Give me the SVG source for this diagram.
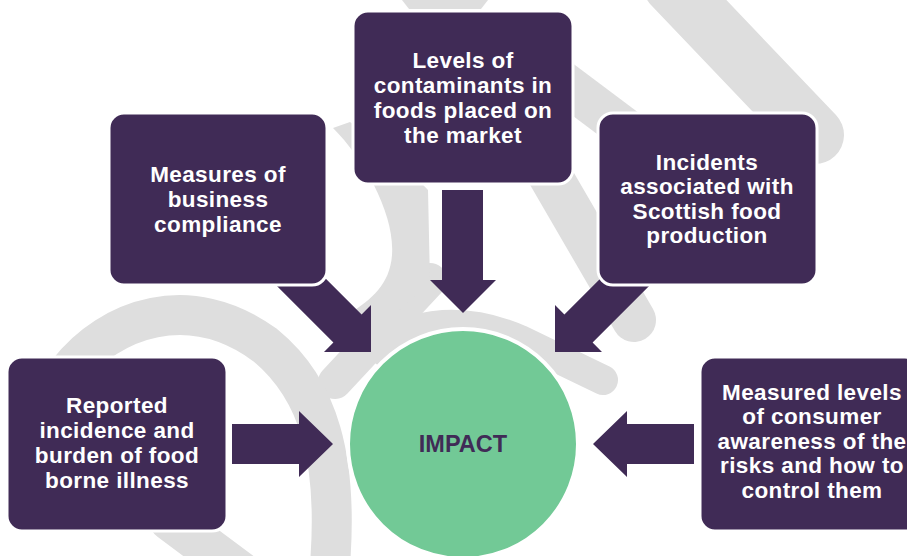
<svg xmlns="http://www.w3.org/2000/svg" width="907" height="556" viewBox="0 0 907 556">
<style>
.wm{fill:none;stroke:#dedede;stroke-linecap:round}
.wmf{fill:#dedede;stroke:none}
.box{fill:#402b56;stroke:#ffffff;stroke-width:3}
.arr{fill:#402b56;stroke:none}
.t{font-family:"Liberation Sans",Arial,sans-serif;font-weight:bold;font-size:22.5px;fill:#ffffff;text-anchor:middle;letter-spacing:0.4px}
.imp{font-family:"Liberation Sans",Arial,sans-serif;font-weight:bold;font-size:23.5px;fill:#402b56;text-anchor:middle}
</style>
<rect width="907" height="556" fill="#ffffff"/>
<g id="watermark">
<path class="wm" d="M672 -15 L815 135" stroke-width="58"/>
<polygon class="wmf" points="402,0 488,0 481,9 409,9"/>
<path class="wm" d="M560 80 L680 170" stroke-width="42"/>
<path class="wm" d="M548 172 L634 320" stroke-width="44"/>
<path class="wm" d="M385 352 C410 318 470 318 520 340 L603 380" stroke-width="30"/>
<path class="wm" d="M430 280 L335 382" stroke-width="34"/>
<path class="wmf" d="M333 128 C365 160 395 215 392 255 C390 285 370 300 352 312 L372 335 L430 282 L428 190 C410 170 380 145 350 122 Z"/>
<path class="wm" d="M68 372 C110 318 190 290 265 345 C320 390 338 460 330 565" stroke-width="40"/>
<path class="wm" d="M170 520 L240 572" stroke-width="42"/>
</g>
<g id="connectors">
<polygon class="arr" points="442,190 483,190 483,280 496,280 463,313 430,280 442,280"/>
<polygon class="arr" points="301.6,254.4 361.6,314.4 371,305 371,352 324,352 333.4,342.6 273.4,282.6"/>
<polygon class="arr" points="624.4,254.4 564.4,314.4 555,305 555,352 602,352 592.6,342.6 652.6,282.6"/>
<polygon class="arr" points="232,424 299,424 299,411 333,444 299,477 299,464 232,464"/>
<polygon class="arr" points="694,424 627,424 627,411 593,444 627,477 627,464 694,464"/>
</g>
<g id="node-contaminants">
<rect class="box" x="353" y="11" width="220" height="173" rx="15"/>
<text class="t" x="463" y="68">Levels of</text>
<text class="t" x="463" y="93">contaminants in</text>
<text class="t" x="463" y="118">foods placed on</text>
<text class="t" x="463" y="143">the market</text>
</g>
<g id="node-compliance">
<rect class="box" x="109" y="113" width="218" height="172" rx="15"/>
<text class="t" x="218" y="182">Measures of</text>
<text class="t" x="218" y="207">business</text>
<text class="t" x="218" y="232">compliance</text>
</g>
<g id="node-incidents">
<rect class="box" x="598" y="113" width="219" height="172" rx="15"/>
<text class="t" x="707" y="170">Incidents</text>
<text class="t" x="707" y="194">associated with</text>
<text class="t" x="707" y="219">Scottish food</text>
<text class="t" x="707" y="243">production</text>
</g>
<g id="node-illness">
<rect class="box" x="7" y="357" width="220" height="174" rx="15"/>
<text class="t" x="117" y="413">Reported</text>
<text class="t" x="117" y="438">incidence and</text>
<text class="t" x="117" y="463">burden of food</text>
<text class="t" x="117" y="488">borne illness</text>
</g>
<g id="node-awareness">
<rect class="box" x="700" y="357" width="220" height="174" rx="15"/>
<text class="t" x="812" y="400">Measured levels</text>
<text class="t" x="812" y="424">of consumer</text>
<text class="t" x="812" y="449">awareness of the</text>
<text class="t" x="812" y="473">risks and how to</text>
<text class="t" x="812" y="498">control them</text>
</g>
<g id="node-impact">
<circle cx="463" cy="444" r="115" fill="#72c996" stroke="#ffffff" stroke-width="4"/>
<text class="imp" x="463" y="452">IMPACT</text>
</g>
</svg>
